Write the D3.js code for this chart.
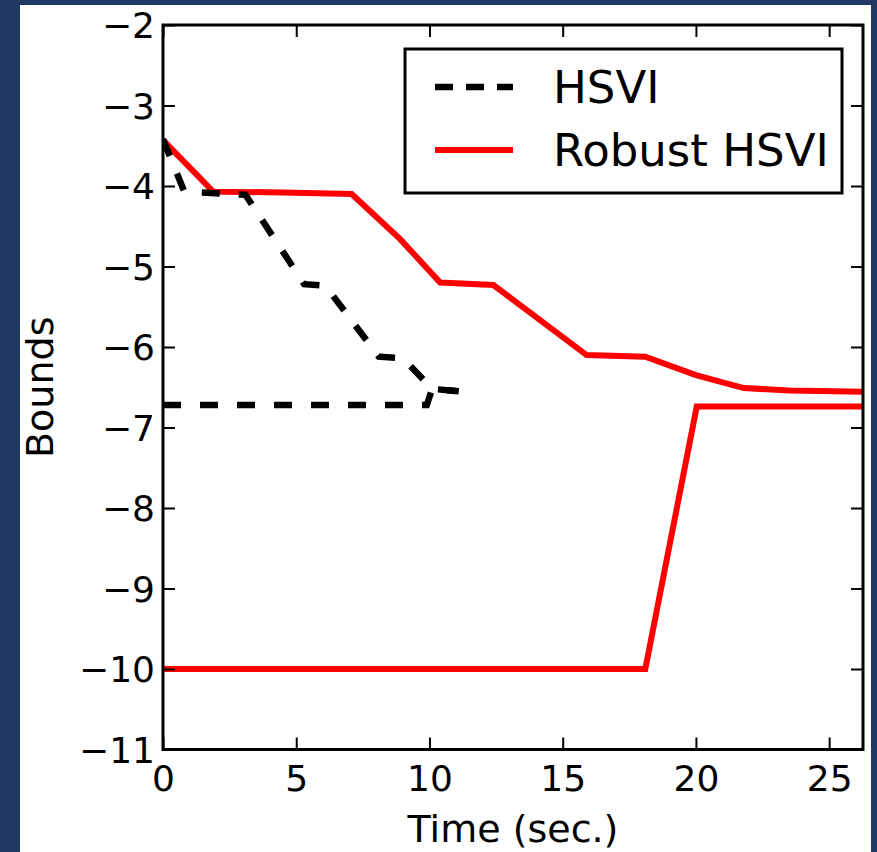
<!DOCTYPE html>
<html><head><meta charset="utf-8">
<script src="https://cdn.jsdelivr.net/npm/d3@7"></script>
<style>
body{margin:0;background:#1f3864;}
text{font-family:"DejaVu Sans",sans-serif;fill:#000;}
</style>
</head><body>
<svg id="chart" width="877" height="852"></svg>
<script>
// ---- data ----
const xTicks = [0, 5, 10, 15, 20, 25];
const yTicks = [-2, -3, -4, -5, -6, -7, -8, -9, -10, -11];
const xLabel = "Time (sec.)";
const yLabel = "Bounds";
const seriesNames = ["HSVI", "Robust HSVI"];

const hsviUpper = [[0,-3.42],[0.8,-4.07],[3.1,-4.11],[5.3,-5.22],[6.1,-5.24],[8.1,-6.12],[9.0,-6.14],[10.1,-6.52],[11.1,-6.55]];
const hsviLower = [[0,-6.72],[9.9,-6.72],[10.1,-6.52],[11.1,-6.55]];
const robustUpper = [[0,-3.43],[1.88,-4.07],[4.5,-4.08],[7.08,-4.10],[8.9,-4.66],[10.4,-5.20],[12.4,-5.23],[15.9,-6.10],[18.1,-6.12],[20.0,-6.35],[21.8,-6.51],[23.5,-6.54],[26.3,-6.555]];
const robustLower = [[0,-10],[18.1,-10],[20.03,-6.74],[26.3,-6.74]];

// ---- layout ----
const svg = d3.select("#chart");
svg.append("rect").attr("x",20).attr("y",5).attr("width",851).attr("height",847).attr("fill","#fff");

const L=163, R=863, T=25, B=749.5;
const x = d3.scaleLinear().domain([0, 26.27]).range([L, R]);
const y = d3.scaleLinear().domain([-11, -2]).range([B, T]);

svg.append("clipPath").attr("id","clip").append("rect")
  .attr("x",L).attr("y",T).attr("width",R-L).attr("height",B-T);

const line = d3.line().x(d=>x(d[0])).y(d=>y(d[1]));
const g = svg.append("g").attr("clip-path","url(#clip)");

[robustUpper, robustLower].forEach(s=>{
  g.append("path").attr("d",line(s)).attr("fill","none")
   .attr("stroke","#ff0000").attr("stroke-width",6).attr("stroke-linejoin","miter");
});
[hsviUpper, hsviLower].forEach(s=>{
  g.append("path").attr("d",line(s)).attr("fill","none")
   .attr("stroke","#000").attr("stroke-width",6.5).attr("stroke-dasharray","18,19");
});

// ---- axes (inward ticks on all sides) ----
const tickLen = 12;
const fmt = v => (v<0 ? "\u2212"+Math.abs(v) : ""+v);

const axB = svg.append("g").attr("transform",`translate(0,${B})`)
  .call(d3.axisBottom(x).tickValues(xTicks).tickSize(-tickLen).tickPadding(16).tickFormat(fmt));
const axT = svg.append("g").attr("transform",`translate(0,${T})`)
  .call(d3.axisTop(x).tickValues(xTicks).tickSize(-tickLen).tickFormat(""));
const axL = svg.append("g").attr("transform",`translate(${L},0)`)
  .call(d3.axisLeft(y).tickValues(yTicks).tickSize(-tickLen).tickPadding(8).tickFormat(fmt));
const axR = svg.append("g").attr("transform",`translate(${R},0)`)
  .call(d3.axisRight(y).tickValues(yTicks).tickSize(-tickLen).tickFormat(""));

[axB,axT,axL,axR].forEach(a=>{
  a.select(".domain").remove();
  a.selectAll(".tick line").attr("stroke","#000").attr("stroke-width",2);
  a.selectAll(".tick text").style("font-family","DejaVu Sans").style("font-size","36px").attr("fill","#000");
});
axB.selectAll(".tick text").attr("dy","0.71em").attr("y",16);
axL.selectAll(".tick text").attr("x",-8).attr("dy","0.36em");

// spines
svg.append("rect").attr("x",L).attr("y",T).attr("width",R-L).attr("height",B-T)
  .attr("fill","none").attr("stroke","#000").attr("stroke-width",3);

// axis labels
svg.append("text").attr("x",(L+R)/2).attr("y",842).attr("text-anchor","middle")
  .style("font-size","38px").text(xLabel);
svg.append("text").attr("transform",`translate(53,${(T+B)/2}) rotate(-90)`).attr("text-anchor","middle")
  .style("font-size","38px").text(yLabel);

// ---- legend ----
const lg = svg.append("g");
lg.append("rect").attr("x",405).attr("y",49).attr("width",437).attr("height",144)
  .attr("fill","#fff").attr("stroke","#000").attr("stroke-width",3);
const legY = [87, 150];
const legStyles = [{stroke:"#000",dash:"18,13",w:6.5},{stroke:"#ff0000",dash:null,w:6}];
seriesNames.forEach((n,i)=>{
  const p = lg.append("line").attr("x1",435).attr("x2",513).attr("y1",legY[i]).attr("y2",legY[i])
    .attr("stroke",legStyles[i].stroke).attr("stroke-width",legStyles[i].w);
  if(legStyles[i].dash) p.attr("stroke-dasharray",legStyles[i].dash);
  lg.append("text").attr("x",553).attr("y",legY[i]).attr("dy","0.36em")
    .style("font-size","45px").text(n);
});
</script>
</body></html>
